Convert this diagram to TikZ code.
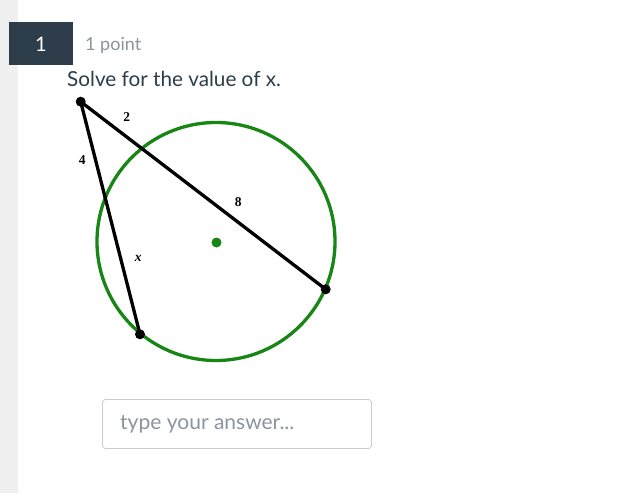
\documentclass[tikz,border=0pt]{standalone}
\usepackage{fontspec}
\setmainfont{Lato}
\newfontfamily\figfont{Liberation Serif}
\definecolor{navy}{HTML}{2D3E4A}
\definecolor{greytext}{HTML}{8A959E}
\definecolor{stripgrey}{HTML}{F0F0F0}
\definecolor{boxline}{HTML}{C8CCCF}
\definecolor{circgreen}{HTML}{178617}
\definecolor{titletext}{HTML}{2D3E4A}
\tikzset{
  seg/.style={line width=3.3pt, black},
  endpt/.style={circle, fill=black, inner sep=0pt, minimum size=10pt},
  lbl/.style={font=\figfont\bfseries\fontsize{13.5}{14}\selectfont, inner sep=0pt},
}
\begin{document}
\begin{tikzpicture}[x=1pt,y=-1pt]
\useasboundingbox (0,0) rectangle (640,493);
\fill[white] (0,0) rectangle (640,493);
\fill[stripgrey] (0,0) rectangle (18,493);
% header
\node[fill=navy, minimum width=64pt, minimum height=43pt, inner sep=0pt] (numbox) at (41,43.5) {};
\node[text=white, font=\fontsize{20}{24}\selectfont] (num) at (41,44) {1};
\node[anchor=west, text=greytext, font=\fontsize{18}{21}\selectfont, inner sep=0pt] (pts) at (85,45) {1 point};
\node[anchor=west, text=titletext, font=\fontsize{20.7}{24}\selectfont, inner sep=0pt] (title) at (67,79) {Solve for the value of x.};
% figure
\coordinate (O) at (216,241.5);
\draw[circgreen, line width=3.3pt] (O) circle[radius=119];
\node[circle, fill=circgreen, inner sep=0pt, minimum size=10pt] (ctr) at (216.5,242.5) {};
\node[endpt] (A) at (80.7,101.7) {};
\node[endpt] (C) at (325.7,289.3) {};
\node[endpt] (D) at (140,334.3) {};
\draw[seg] (A.center) -- (C.center);
\draw[seg] (A.center) -- (D.center);
\node[lbl] (l2) at (126.7,116.7) {2};
\node[lbl] (l4) at (82.3,160) {4};
\node[lbl] (l8) at (238.3,202.3) {8};
\node[lbl] (lx) at (138.3,258.3) {\itshape x};
% answer box
\draw[boxline, line width=0.8pt, rounded corners=3pt] (102.5,399.5) rectangle (371.5,448.5);
\node[anchor=west, text=greytext, font=\fontsize{21}{24}\selectfont, inner sep=0pt] (ans) at (120,424.5) {type your answer...};
\end{tikzpicture}
\end{document}
